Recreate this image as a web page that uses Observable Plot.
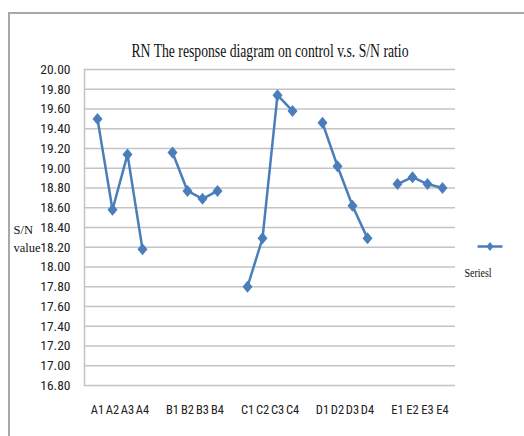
<!DOCTYPE html>
<html>
<head>
<meta charset="utf-8">
<script src="https://cdn.jsdelivr.net/npm/d3@7"></script>
<script src="https://cdn.jsdelivr.net/npm/@observablehq/plot@0.6"></script>
<style>
  html, body { margin: 0; padding: 0; background: #fff; overflow: hidden; }
  #wrap { position: relative; width: 524px; height: 436px; }
  #border { position: absolute; left: 8px; top: 12px; width: 600px; height: 600px;
            border-top: 2px solid #a8a8a8; border-left: 2px solid #a8a8a8; pointer-events: none; }
</style>
</head>
<body>
<div id="wrap"><div id="border"></div></div>
<script>
// ---- data ----
const title = "RN The response diagram on control v.s. S/N ratio";
const yLabel = "S/N\nvalue";
const seriesName = "Seriesl";
const levels = ["A1","A2","A3","A4","B1","B2","B3","B4","C1","C2","C3","C4","D1","D2","D3","D4","E1","E2","E3","E4"];
const factorOf = ["A","A","A","A","B","B","B","B","C","C","C","C","D","D","D","D","E","E","E","E"];
const snValues = [19.50,18.58,19.14,18.18, 19.16,18.77,18.69,18.77, 17.80,18.29,19.74,19.58, 19.46,19.02,18.62,18.29, 18.84,18.91,18.84,18.80];
const xCategories = ["A1","A2","A3","A4","gap1","B1","B2","B3","B4","gap2","C1","C2","C3","C4","gap3","D1","D2","D3","D4","gap4","E1","E2","E3","E4"];
const yTicks = [16.8,17.0,17.2,17.4,17.6,17.8,18.0,18.2,18.4,18.6,18.8,19.0,19.2,19.4,19.6,19.8,20.0];
const yDomain = [16.8, 20.0];

const rows = levels.map((l, i) => ({level: l, factor: factorOf[i], sn: snValues[i]}));

const blue = "#4a7ebb";
const grid = "#c4c4c4";
const sansNarrow = "'Liberation Sans Narrow', 'Arial Narrow', 'Roboto Condensed', Roboto, sans-serif";
const serif = "'Liberation Serif', 'Times New Roman', serif";

const diamond = {
  draw(ctx) {
    ctx.moveTo(0, -6); ctx.lineTo(5, 0); ctx.lineTo(0, 6); ctx.lineTo(-5, 0); ctx.closePath();
  }
};
const legendSwatch = {
  draw(ctx) {
    ctx.moveTo(-12.5, -1.3); ctx.lineTo(12.5, -1.3); ctx.lineTo(12.5, 1.3); ctx.lineTo(-12.5, 1.3); ctx.closePath();
    ctx.moveTo(0, -4.5); ctx.lineTo(3.5, 0); ctx.lineTo(0, 4.5); ctx.lineTo(-3.5, 0); ctx.closePath();
  }
};

const chart = Plot.plot({
  width: 524,
  height: 436,
  marginLeft: 84,
  marginRight: 69,
  marginTop: 69,
  marginBottom: 51,
  style: {fontFamily: sansNarrow, fontSize: "13.5px", color: "#222", background: "transparent"},
  x: {type: "point", domain: xCategories, padding: 0.5},
  y: {domain: yDomain},
  marks: [
    Plot.ruleY(yTicks, {stroke: grid, strokeWidth: 1.5}),
    Plot.frame({anchor: "left", stroke: grid, strokeWidth: 1.5}),
    Plot.axisY(yTicks, {tickSize: 0, tickPadding: 14, tickFormat: d => d.toFixed(2), label: null, fontSize: 13.5}),
    Plot.axisX({tickSize: 0, tickPadding: 20, tickFormat: d => d.startsWith("gap") ? "" : d, label: null, fontSize: 12.5}),
    Plot.line(rows, {x: "level", y: "sn", z: "factor", stroke: blue, strokeWidth: 2.5}),
    Plot.dot(rows, {x: "level", y: "sn", symbol: diamond, fill: blue, r: 5}),
    Plot.text([title], {frameAnchor: "top", dy: -25, fontFamily: serif, fontSize: 18, fill: "#111", className: "ttl"}),
    Plot.text([yLabel], {frameAnchor: "left", dx: -71, dy: 10, textAnchor: "start", lineHeight: 1.45, fontFamily: serif, fontSize: 12.5, fill: "#111", className: "ylab"}),
    Plot.dot([seriesName], {frameAnchor: "right", dx: 34.5, dy: 19, symbol: legendSwatch, fill: blue, r: 5}),
    Plot.text([seriesName], {frameAnchor: "right", dx: 36, dy: 46, fontFamily: serif, fontSize: 12, fill: "#111", className: "leg"})
  ]
});
document.getElementById("wrap").prepend(chart);
// compress the serif texts horizontally like the reference
d3.select(chart).selectAll(".ttl text").attr("textLength", 277).attr("lengthAdjust", "spacingAndGlyphs");
d3.select(chart).selectAll(".leg text").attr("textLength", 27).attr("lengthAdjust", "spacingAndGlyphs");
</script>
</body>
</html>
